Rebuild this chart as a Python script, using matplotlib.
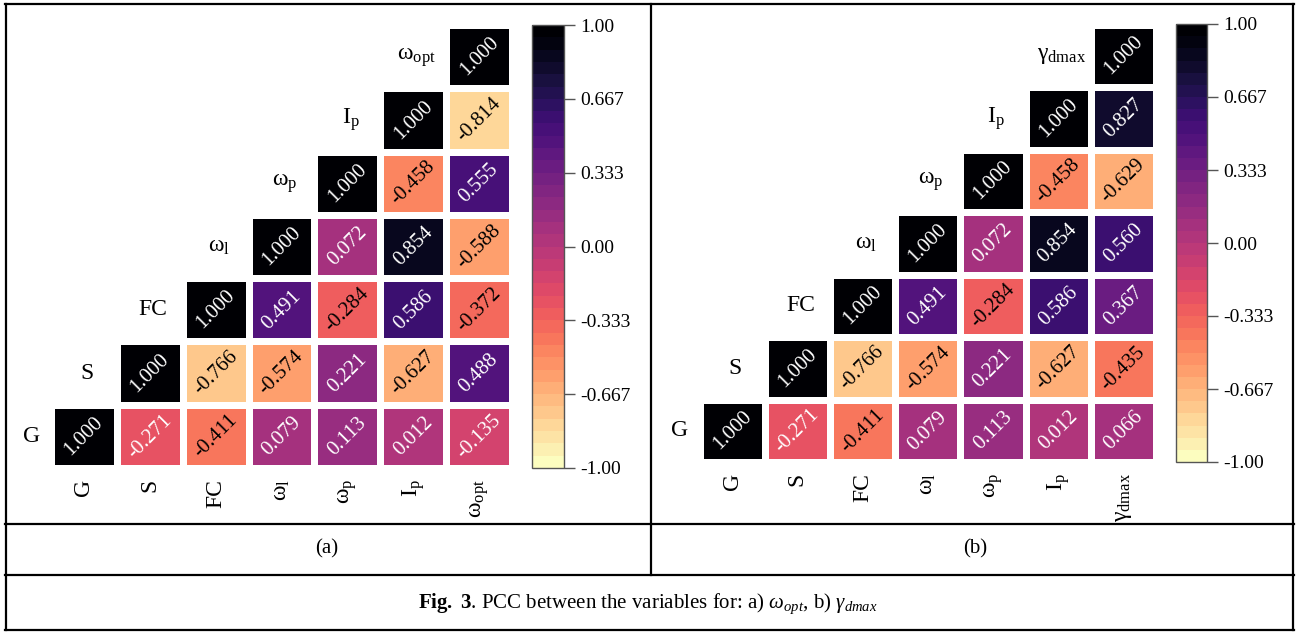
import matplotlib
matplotlib.use("Agg")
import matplotlib.pyplot as plt
import numpy as np
import seaborn as sns
from matplotlib.colors import ListedColormap
from matplotlib.lines import Line2D

plt.rcParams['font.family'] = ['Liberation Serif', 'DejaVu Serif']
plt.rcParams['mathtext.fontset'] = 'custom'
plt.rcParams['mathtext.rm'] = 'Liberation Serif'
plt.rcParams['mathtext.it'] = 'Liberation Serif:italic'
plt.rcParams['mathtext.bf'] = 'Liberation Serif:bold'
plt.rcParams['axes.unicode_minus'] = False

# variables (bottom row first)
labels_a = ['G', 'S', 'FC', 'ω$_\\mathrm{l}$', 'ω$_\\mathrm{p}$', 'I$_\\mathrm{p}$', 'ω$_\\mathrm{opt}$']
labels_b = ['G', 'S', 'FC', 'ω$_\\mathrm{l}$', 'ω$_\\mathrm{p}$', 'I$_\\mathrm{p}$', 'γ$_\\mathrm{dmax}$']

# upper triangle of the PCC matrix, row i holds columns i..6
rows_a = [
    [1.000, -0.271, -0.411, 0.079, 0.113, 0.012, -0.135],
    [1.000, -0.766, -0.574, 0.221, -0.627, 0.488],
    [1.000, 0.491, -0.284, 0.586, -0.372],
    [1.000, 0.072, 0.854, -0.588],
    [1.000, -0.458, 0.555],
    [1.000, -0.814],
    [1.000],
]
rows_b = [
    [1.000, -0.271, -0.411, 0.079, 0.113, 0.012, 0.066],
    [1.000, -0.766, -0.574, 0.221, -0.627, -0.435],
    [1.000, 0.491, -0.284, 0.586, 0.367],
    [1.000, 0.072, 0.854, 0.560],
    [1.000, -0.458, -0.629],
    [1.000, 0.827],
    [1.000],
]

cbar_ticks = [1.0, 0.667, 0.333, 0.0, -0.333, -0.667, -1.0]
cbar_labels = ['1.00', '0.667', '0.333', '0.00', '-0.333', '-0.667', '-1.00']

cmap = ListedColormap(plt.get_cmap('magma_r')(np.linspace(0, 1, 36)))

W, H = 1296, 632


def box(l, t, r, b):
    return [l / W, 1 - b / H, (r - l) / W, (b - t) / H]


def to_matrix(rows):
    n = len(rows)
    m = np.full((n, n), np.nan)
    for i, r in enumerate(rows):
        m[i, i:] = r
    return np.ma.masked_invalid(m)


def draw_panel(fig, heat_box, cbar_box, rows, labels):
    ax = fig.add_axes(heat_box)
    cax = fig.add_axes(cbar_box)
    m = to_matrix(rows)
    n = len(rows)
    mesh = ax.pcolormesh(np.arange(n + 1), np.arange(n + 1), m, cmap=cmap,
                         vmin=-1, vmax=1, edgecolors='white', linewidth=4.7)
    for i in range(n):
        for j in range(i, n):
            v = m[i, j]
            ax.text(j + 0.5, i + 0.5, '%.3f' % v, rotation=45, ha='center', va='center',
                    fontsize=15, color='white' if v > -0.28 else 'black')
        ax.text(max(i - 0.45, -0.3), i + 0.5, labels[i], ha='center', va='center',
                fontsize=17, clip_on=False)
    ax.set_xlim(0, n)
    ax.set_ylim(0, n)
    ax.set_xticks(np.arange(n) + 0.5)
    ax.set_xticklabels(labels, rotation=90, fontsize=17)
    ax.tick_params(axis='x', length=0, pad=8)
    ax.set_yticks([])
    for s in ax.spines.values():
        s.set_visible(False)

    cb = fig.colorbar(mesh, cax=cax, ticks=cbar_ticks)
    cb.ax.set_yticklabels(cbar_labels)
    cb.ax.tick_params(labelsize=14, length=8, width=1, color='#555555', pad=4)
    cb.outline.set_edgecolor('#555555')
    cb.outline.set_linewidth(1)


fig = plt.figure(figsize=(12.96, 6.32), dpi=100)

draw_panel(fig, box(51, 25, 512, 468), box(532, 25, 564, 468), rows_a, labels_a)
draw_panel(fig, box(699.5, 24.5, 1156, 462), box(1176, 24, 1207, 462), rows_b, labels_b)

# table frame around the two panels and the caption
def hline(y, x0, x1):
    fig.add_artist(Line2D([x0 / W, x1 / W], [1 - y / H, 1 - y / H], color='black', lw=1.6,
                          transform=fig.transFigure))


def vline(x, y0, y1):
    fig.add_artist(Line2D([x / W, x / W], [1 - y0 / H, 1 - y1 / H], color='black', lw=1.6,
                          transform=fig.transFigure))


hline(4, 5, 1294)
hline(524, 5, 1294)
hline(575, 5, 1294)
hline(630, 5, 1294)
vline(6, 4, 630)
vline(1293, 4, 630)
vline(651, 4, 575)

fig.text(327 / W, 1 - 549 / H, '(a)', ha='center', va='center', fontsize=15)
fig.text(975 / W, 1 - 549 / H, '(b)', ha='center', va='center', fontsize=15)
fig.text(648 / W, 1 - 604 / H,
         r'$\mathbf{Fig.}$ $\mathbf{3}$. PCC between the variables for: a) $\omega_{opt}$, b) $\gamma_{dmax}$',
         ha='center', va='center', fontsize=15)

fig.savefig('out.png', dpi=100)
